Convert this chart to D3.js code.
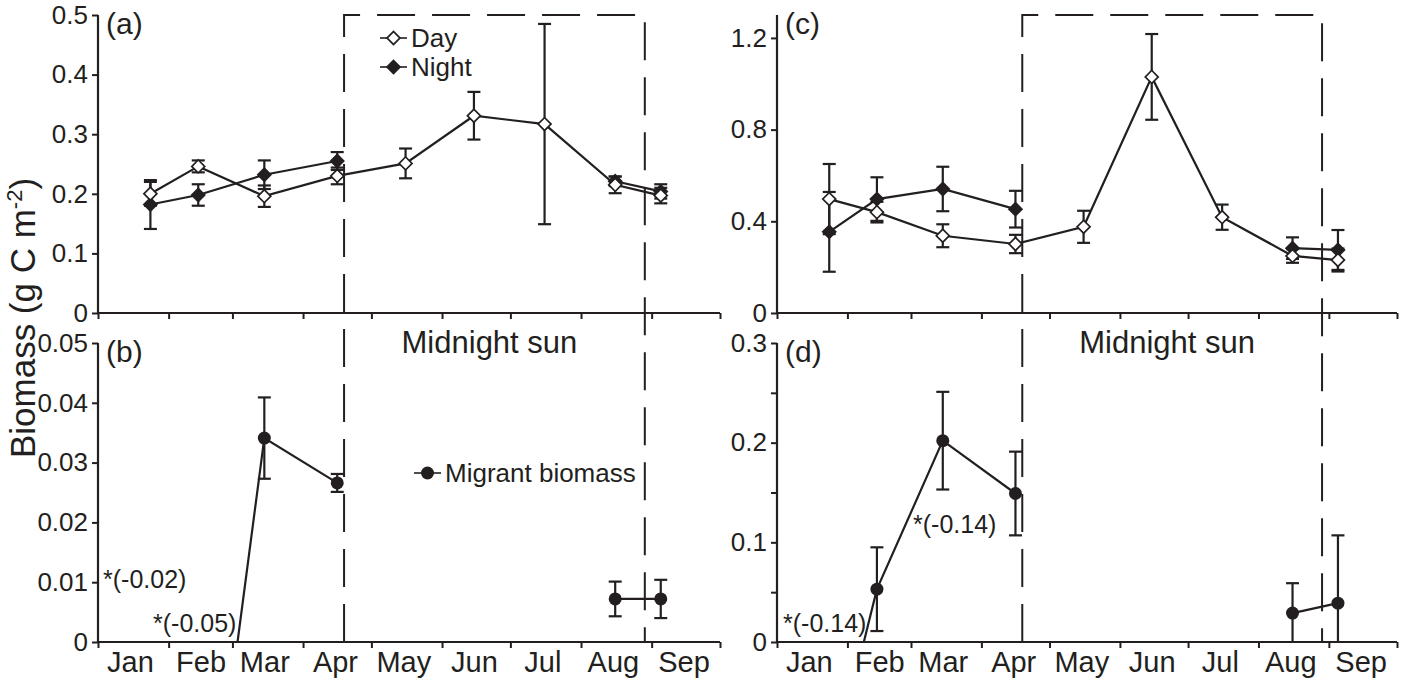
<!DOCTYPE html>
<html><head><meta charset="utf-8">
<script src="https://cdn.jsdelivr.net/npm/d3@7"></script>
<style>
body{margin:0;background:#fff;}
text{font-family:"Liberation Sans",Arial,Helvetica,sans-serif;fill:#231f20;}
</style></head>
<body>
<script>
// ---------- data ----------
const monthNames = ["Jan","Feb","Mar","Apr","May","Jun","Jul","Aug","Sep"];
const sampleDay  = [23, 44, 73, 105, 135, 165, 196, 227, 247]; // day of year of sampling
const midnightSun = [108, 240]; // day of year, start / end

// panel (a) biomass, left site
const dayA      = [0.200, 0.246, 0.196, 0.230, 0.251, 0.331, 0.317, 0.215, 0.197];
const dayAErr   = [0.020, 0.010, 0.018, 0.014, 0.025, 0.040, 0.168, 0.014, 0.013];
const nightA    = [0.182, 0.198, 0.232, 0.255, null, null, null, 0.221, 0.204];
const nightAErr = [0.041, 0.018, 0.024, 0.015, null, null, null, 0.008, 0.012];
// panel (b) migrant biomass
const migB      = [-0.02, -0.05, 0.0341, 0.0266, null, null, null, 0.0072, 0.0072];
const migBErr   = [null, null, 0.0068, 0.0015, null, null, null, 0.0029, 0.0032];
// panel (c) biomass, right site
const dayC      = [0.497, 0.440, 0.337, 0.301, 0.376, 1.030, 0.418, 0.249, 0.231];
const dayCErr   = [0.153, 0.045, 0.050, 0.040, 0.070, 0.187, 0.055, 0.030, 0.050];
const nightC    = [0.354, 0.497, 0.541, 0.453, null, null, null, 0.283, 0.275];
const nightCErr = [0.174, 0.095, 0.097, 0.080, null, null, null, 0.047, 0.087];
// panel (d) migrant biomass
const migD      = [-0.14, 0.053, 0.202, 0.149, null, null, null, 0.029, 0.039];
const migDErr   = [null, 0.042, 0.049, 0.042, null, null, null, 0.030, 0.068];

const ticksA = [0, 0.1, 0.2, 0.3, 0.4, 0.5];
const ticksB = [0, 0.01, 0.02, 0.03, 0.04, 0.05];
const ticksC = [0, 0.4, 0.8, 1.2];
const ticksD = [0, 0.05, 0.1, 0.15, 0.2, 0.25, 0.3];
const labelsD = [0, 0.1, 0.2, 0.3];

// ---------- drawing ----------
const INK = "#231f20";
const W = 1409, H = 679;
const svg = d3.select("body").append("svg").attr("width", W).attr("height", H);
const toDate = d => new Date(2011, 0, 1 + d);
const yearStart = new Date(2011, 0, 1), yearEnd = new Date(2011, 9, 1);
const midMonths = d3.range(9).map(m => new Date(2011, m, 15));

const cols = [{x0: 98, x1: 720}, {x0: 777, x1: 1397}];
const rows = [{y0: 313, y1: 15}, {y0: 642, y1: 343}];

let clipId = 0;
function panel(cfg) {
  const col = cols[cfg.col], row = rows[cfg.row];
  const x = d3.scaleTime().domain([yearStart, yearEnd]).range([col.x0, col.x1]);
  const y = d3.scaleLinear().domain(cfg.domain).range([row.y0, row.y1]);
  const g = svg.append("g");

  // x axis (month boundaries)
  const xa = g.append("g").attr("transform", `translate(0,${row.y0})`)
    .call(d3.axisBottom(x).ticks(d3.timeMonth.every(1)).tickFormat("").tickSize(6).tickSizeOuter(0));
  if (cfg.months) {
    g.append("g").attr("transform", `translate(0,${row.y0})`)
      .call(d3.axisBottom(x).tickValues(midMonths).tickFormat(d3.timeFormat("%b")).tickSize(0).tickPadding(9))
      .call(a => a.select(".domain").remove())
      .call(a => a.selectAll("text").attr("font-size", 29).style("fill", INK));
  }
  // y axis
  const ya = g.append("g").attr("transform", `translate(${col.x0},0)`)
    .call(d3.axisLeft(y).tickValues(cfg.ticks).tickFormat(cfg.fmt).tickSize(6).tickPadding(4).tickSizeOuter(0));
  [xa, ya].forEach(a => {
    a.select(".domain").attr("stroke", INK).attr("stroke-width", 2.2);
    a.selectAll(".tick line").attr("stroke", INK).attr("stroke-width", 2);
    a.selectAll("text").attr("font-size", 26).style("fill", INK);
  });
  ya.select(".domain").attr("d", `M0,${row.y0}V${row.y1}`);
  xa.select(".domain").attr("d", `M${col.x0},0H${col.x1}`);

  // panel letter
  g.append("text").attr("x", col.x0 + 8).attr("y", row.y1 + 19).attr("font-size", 30).text(cfg.letter);

  // clip
  const id = "clip" + (clipId++);
  svg.append("clipPath").attr("id", id).append("rect")
    .attr("x", col.x0).attr("y", row.y1 - 20).attr("width", col.x1 - col.x0).attr("height", row.y0 - row.y1 + 20);
  const pg = g.append("g").attr("clip-path", `url(#${id})`);

  const line = d3.line().defined(d => d.v !== null).x(d => x(toDate(d.day))).y(d => y(d.v));
  const seriesData = cfg.series.map(s => s.values.map((v, i) => ({day: sampleDay[i], v, e: s.err[i]})));

  // lines
  cfg.series.forEach((s, k) => {
    pg.append("path").datum(seriesData[k]).attr("d", line)
      .attr("fill", "none").attr("stroke", INK).attr("stroke-width", 2.2);
  });
  // error bars
  cfg.series.forEach((s, k) => {
    const pts = seriesData[k].filter(d => d.v !== null && d.e !== null);
    const eb = pg.append("g").attr("stroke", INK).attr("stroke-width", 2.2);
    pts.forEach(d => {
      const cx = x(toDate(d.day)), top = y(d.v + d.e), bot = y(d.v - d.e);
      eb.append("line").attr("x1", cx).attr("x2", cx).attr("y1", top).attr("y2", bot);
      eb.append("line").attr("x1", cx - 6.5).attr("x2", cx + 6.5).attr("y1", top).attr("y2", top);
      eb.append("line").attr("x1", cx - 6.5).attr("x2", cx + 6.5).attr("y1", bot).attr("y2", bot);
    });
  });
  // markers
  cfg.series.forEach((s, k) => {
    const pts = seriesData[k].filter(d => d.v !== null && d.v >= 0);
    pts.forEach(d => drawMarker(pg, s.marker, x(toDate(d.day)), y(d.v)));
  });
  return {x, y, g};
}

function drawMarker(sel, type, cx, cy) {
  if (type === "circle") {
    sel.append("circle").attr("cx", cx).attr("cy", cy).attr("r", 6.5).attr("fill", INK);
  } else {
    sel.append("path").attr("d", d3.symbol(d3.symbolSquare, 84)())
      .attr("transform", `translate(${cx},${cy}) rotate(45)`)
      .attr("fill", type === "open" ? "#fff" : INK)
      .attr("stroke", INK).attr("stroke-width", 1.7);
  }
}

const fmt = d => d === 0 ? "0" : String(d);

const pA = panel({col: 0, row: 0, domain: [0, 0.5], ticks: ticksA, fmt, letter: "(a)",
  series: [{values: nightA, err: nightAErr, marker: "filled"}, {values: dayA, err: dayAErr, marker: "open"}]});
const pB = panel({col: 0, row: 1, domain: [0, 0.05], ticks: ticksB, fmt, letter: "(b)", months: true,
  series: [{values: migB, err: migBErr, marker: "circle"}]});
const pC = panel({col: 1, row: 0, domain: [0, 1.3], ticks: ticksC, fmt, letter: "(c)",
  series: [{values: nightC, err: nightCErr, marker: "filled"}, {values: dayC, err: dayCErr, marker: "open"}]});
const pD = panel({col: 1, row: 1, domain: [0, 0.3], ticks: ticksD, letter: "(d)", months: true,
  fmt: d => labelsD.includes(d) ? fmt(d) : "",
  series: [{values: migD, err: migDErr, marker: "circle"}]});

// midnight sun dashed boxes
[pA, pC].forEach(p => {
  const xs = p.x(toDate(midnightSun[0])), xe = p.x(toDate(midnightSun[1]));
  svg.append("path").attr("d", `M${xs},${rows[1].y0}V${rows[0].y1}H${xe}V${rows[1].y0}`)
    .attr("fill", "none").attr("stroke", INK).attr("stroke-width", 2).attr("stroke-dasharray", "38,17");
  svg.append("text").attr("x", (xs + xe) / 2 - 5).attr("y", 353).attr("text-anchor", "middle")
    .attr("font-size", 31).text("Midnight sun");
});

// legends
function legendItem(x0, cy, type, label) {
  svg.append("line").attr("x1", x0).attr("x2", x0 + 27).attr("y1", cy).attr("y2", cy)
    .attr("stroke", INK).attr("stroke-width", 1.6);
  drawMarker(svg, type, x0 + 13.5, cy);
  svg.append("text").attr("x", x0 + 31).attr("y", cy + 9).attr("font-size", 26).text(label);
}
legendItem(380, 38, "open", "Day");
legendItem(380, 67, "filled", "Night");
legendItem(414, 473, "circle", "Migrant biomass");

// annotations of negative values outside the axes
const ann = [[103, 588, "*(-0.02)"], [153, 632, "*(-0.05)"], [783, 632, "*(-0.14)"], [913, 533, "*(-0.14)"]];
ann.forEach(a => svg.append("text").attr("x", a[0]).attr("y", a[1]).attr("font-size", 25).text(a[2]));

// y axis title
const yt = svg.append("text").attr("transform", "translate(35,318) rotate(-90)")
  .attr("text-anchor", "middle").attr("font-size", 35);
yt.append("tspan").text("Biomass (g C m");
yt.append("tspan").attr("dy", -13).attr("font-size", 22).text("-2");
yt.append("tspan").attr("dy", 13).text(")");
</script>
</body></html>
